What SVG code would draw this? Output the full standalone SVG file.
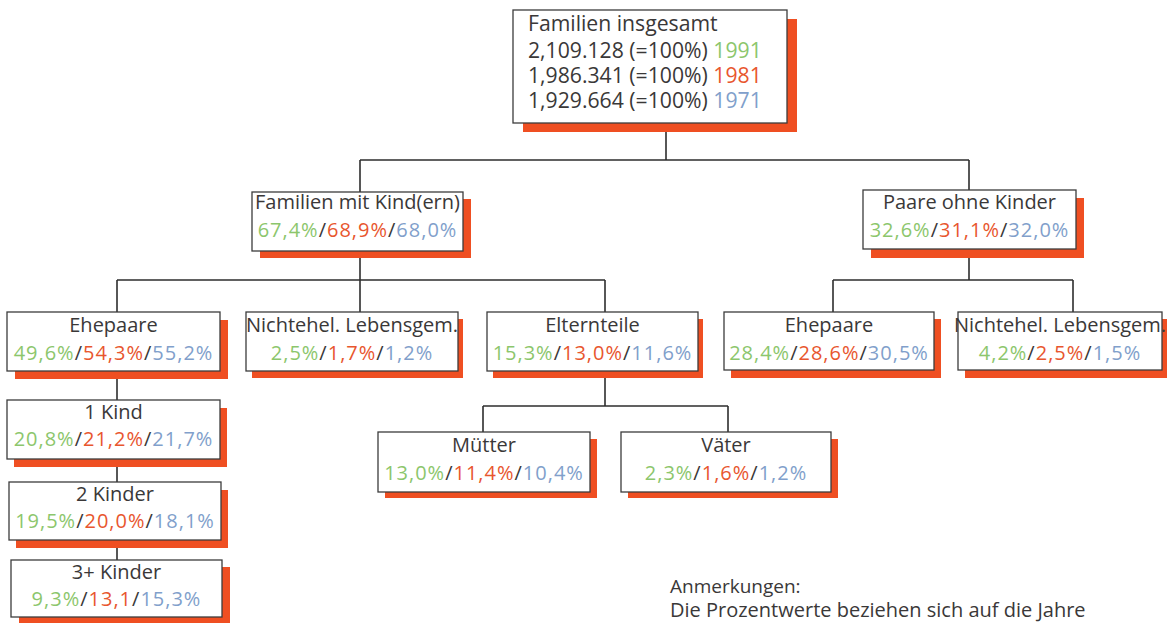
<svg xmlns="http://www.w3.org/2000/svg" width="1167" height="623" viewBox="0 0 1167 623">
<style>
text{font-family:"Open Sans","Noto Sans","Liberation Sans",sans-serif;font-size:20px;fill:#3a3838}
.c{text-anchor:middle}
.p{letter-spacing:1px}
.t{font-size:21.2px}
.g{fill:#8cc66c}
.o{fill:#e8562e}
.b{fill:#819fcb}
.box{fill:#fff;stroke:#3c3c3c;stroke-width:1.3}
.sh{fill:#ef4f22}
.ln{fill:none;stroke:#2e2e2e;stroke-width:1.6}
</style>
<rect width="1167" height="623" fill="#fff"/>
<g id="connectors" class="ln">
<path d="M666 123V160M360 160H969M360 160V193M969 160V191"/>
<path d="M360 251V280M117 280H605M117 280V312M360 280V312M605 280V312"/>
<path d="M969 249V280M833 280H1073M833 280V312M1073 280V312"/>
<path d="M117 371V400M117 459V482M117 540V560"/>
<path d="M605 371V406M483 406H728M483 406V432M728 406V432"/>
</g>
<g id="n-total">
<rect class="sh" x="523" y="19" width="274" height="113"/>
<rect class="box" x="513" y="10" width="274" height="113"/>
<text class="t" x="528" y="31">Familien insgesamt</text>
<text class="t" x="528" y="58">2,109.128 (=100%) <tspan class="g">1991</tspan></text>
<text class="t" x="528" y="83">1,986.341 (=100%) <tspan class="o">1981</tspan></text>
<text class="t" x="528" y="108">1,929.664 (=100%) <tspan class="b">1971</tspan></text>
</g>
<g id="n-mitkind">
<rect class="sh" x="260" y="199" width="211" height="59"/>
<rect class="box" x="252" y="192" width="211" height="59"/>
<text class="c" x="357.5" y="209">Familien mit Kind(ern)</text>
<text class="c p" x="357.5" y="237"><tspan class="g">67,4%</tspan>/<tspan class="o">68,9%</tspan>/<tspan class="b">68,0%</tspan></text>
</g>
<g id="n-ohnekind">
<rect class="sh" x="871" y="198" width="213" height="60"/>
<rect class="box" x="863" y="190" width="213" height="59"/>
<text class="c" x="969.5" y="209">Paare ohne Kinder</text>
<text class="c p" x="969.5" y="237"><tspan class="g">32,6%</tspan>/<tspan class="o">31,1%</tspan>/<tspan class="b">32,0%</tspan></text>
</g>
<g id="n-ehe1">
<rect class="sh" x="15" y="320" width="213" height="59"/>
<rect class="box" x="7" y="312" width="213" height="59"/>
<text class="c" x="113.5" y="332">Ehepaare</text>
<text class="c p" x="113.5" y="360"><tspan class="g">49,6%</tspan>/<tspan class="o">54,3%</tspan>/<tspan class="b">55,2%</tspan></text>
</g>
<g id="n-nle1">
<rect class="sh" x="252" y="319" width="211" height="59"/>
<rect class="box" x="246" y="312" width="212" height="59"/>
<text class="c" x="352" y="332">Nichtehel. Lebensgem.</text>
<text class="c p" x="352" y="360"><tspan class="g">2,5%</tspan>/<tspan class="o">1,7%</tspan>/<tspan class="b">1,2%</tspan></text>
</g>
<g id="n-eltern">
<rect class="sh" x="493" y="319" width="210" height="59"/>
<rect class="box" x="487" y="312" width="211" height="59"/>
<text class="c" x="592.5" y="332">Elternteile</text>
<text class="c p" x="592.5" y="360"><tspan class="g">15,3%</tspan>/<tspan class="o">13,0%</tspan>/<tspan class="b">11,6%</tspan></text>
</g>
<g id="n-ehe2">
<rect class="sh" x="731" y="319" width="210" height="59"/>
<rect class="box" x="724" y="312" width="210" height="58"/>
<text class="c" x="829" y="332">Ehepaare</text>
<text class="c p" x="829" y="360"><tspan class="g">28,4%</tspan>/<tspan class="o">28,6%</tspan>/<tspan class="b">30,5%</tspan></text>
</g>
<g id="n-nle2">
<rect class="sh" x="965" y="319" width="202" height="59"/>
<rect class="box" x="958" y="312" width="204" height="58"/>
<text class="c" x="1060" y="332">Nichtehel. Lebensgem.</text>
<text class="c p" x="1060" y="360"><tspan class="g">4,2%</tspan>/<tspan class="o">2,5%</tspan>/<tspan class="b">1,5%</tspan></text>
</g>
<g id="n-kind1">
<rect class="sh" x="14" y="408" width="213" height="59"/>
<rect class="box" x="7" y="400" width="213" height="59"/>
<text class="c" x="113.5" y="419">1 Kind</text>
<text class="c p" x="113.5" y="446"><tspan class="g">20,8%</tspan>/<tspan class="o">21,2%</tspan>/<tspan class="b">21,7%</tspan></text>
</g>
<g id="n-kind2">
<rect class="sh" x="16" y="490" width="212" height="58"/>
<rect class="box" x="9" y="482" width="212" height="58"/>
<text class="c" x="115" y="501">2 Kinder</text>
<text class="c p" x="115" y="528"><tspan class="g">19,5%</tspan>/<tspan class="o">20,0%</tspan>/<tspan class="b">18,1%</tspan></text>
</g>
<g id="n-kind3">
<rect class="sh" x="19" y="567" width="211" height="57"/>
<rect class="box" x="11" y="560" width="211" height="57"/>
<text class="c" x="116.5" y="579">3+ Kinder</text>
<text class="c p" x="116.5" y="606"><tspan class="g">9,3%</tspan>/<tspan class="o">13,1</tspan>/<tspan class="b">15,3%</tspan></text>
</g>
<g id="n-muetter">
<rect class="sh" x="385" y="439" width="212" height="59"/>
<rect class="box" x="378" y="432" width="212" height="60"/>
<text class="c" x="484" y="452">Mütter</text>
<text class="c p" x="484" y="480"><tspan class="g">13,0%</tspan>/<tspan class="o">11,4%</tspan>/<tspan class="b">10,4%</tspan></text>
</g>
<g id="n-vaeter">
<rect class="sh" x="628" y="439" width="210" height="59"/>
<rect class="box" x="621" y="432" width="210" height="60"/>
<text class="c" x="726" y="452">Väter</text>
<text class="c p" x="726" y="480"><tspan class="g">2,3%</tspan>/<tspan class="o">1,6%</tspan>/<tspan class="b">1,2%</tspan></text>
</g>
<g id="notes">
<text x="670" y="593" style="font-size:19px">Anmerkungen:</text>
<text x="670" y="617">Die Prozentwerte beziehen sich auf die Jahre</text>
</g>
</svg>
